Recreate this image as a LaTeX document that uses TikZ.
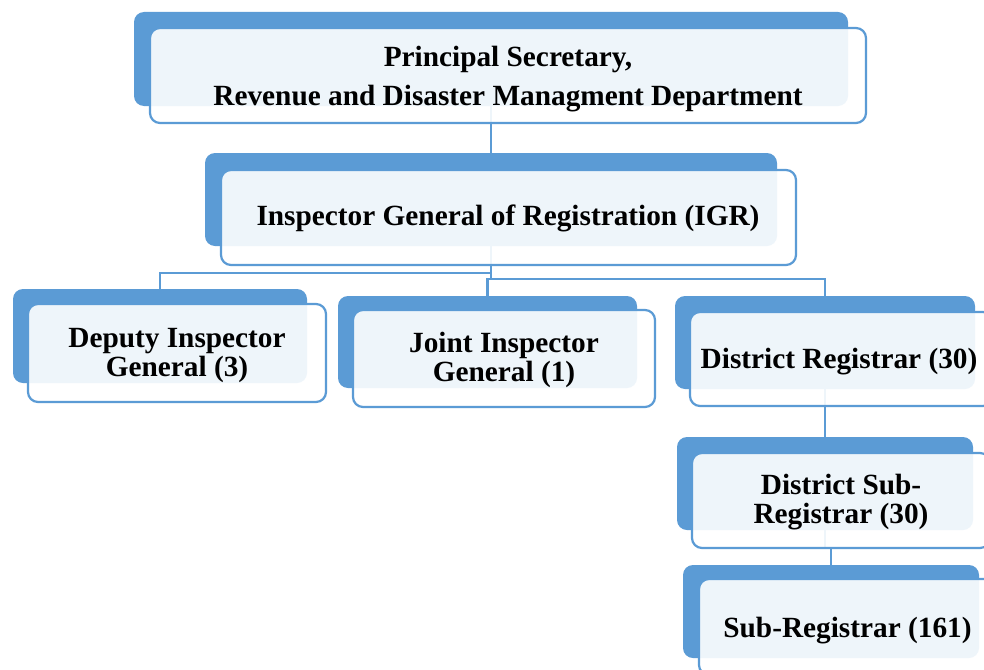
\documentclass[tikz,border=0pt]{standalone}
\usepackage{fontspec}
\setmainfont{Liberation Serif}
\usetikzlibrary{backgrounds}
\definecolor{orgblue}{RGB}{91,155,213}
\begin{document}
\begin{tikzpicture}[x=1pt,y=-1pt,
  backbox/.style={fill=orgblue, rounded corners=10pt, inner sep=0pt, outer sep=0pt},
  frontbox/.style={draw=orgblue, line width=2.2pt, fill=white, fill opacity=0.9, rounded corners=10pt, inner sep=0pt, outer sep=0pt},
  boxlabel/.style={font=\fontsize{29.3}{29}\selectfont\bfseries, align=center, text=black, inner sep=0pt},
  link/.style={draw=orgblue, line width=2.2pt}]
\useasboundingbox (0,0) rectangle (984,669);
% back boxes
\node[backbox, minimum width=714pt, minimum height=94pt] (b1) at (491,59) {};
\node[backbox, minimum width=572pt, minimum height=93pt] (b2) at (491,199.5) {};
\node[backbox, minimum width=294pt, minimum height=94pt] (b3) at (160,336) {};
\node[backbox, minimum width=299pt, minimum height=92pt] (b4) at (487.5,342) {};
\node[backbox, minimum width=300pt, minimum height=93pt] (b5) at (825,342.5) {};
\node[backbox, minimum width=296pt, minimum height=93pt] (b6) at (825,483.5) {};
\node[backbox, minimum width=296pt, minimum height=93pt] (b7) at (831,611.5) {};
% front boxes
\node[frontbox, minimum width=716pt, minimum height=95pt] (f1) at (508,75.5) {};
\node[frontbox, minimum width=575pt, minimum height=95pt] (f2) at (508.5,217.5) {};
\node[frontbox, minimum width=298pt, minimum height=98pt] (f3) at (177,353) {};
\node[frontbox, minimum width=302pt, minimum height=97pt] (f4) at (504,358.5) {};
\node[frontbox, minimum width=303pt, minimum height=94pt] (f5) at (841.5,359) {};
\node[frontbox, minimum width=298pt, minimum height=95pt] (f6) at (841,500.5) {};
\node[frontbox, minimum width=300pt, minimum height=96pt] (f7) at (849,627) {};
% labels
\node[boxlabel, font=\fontsize{29.3}{39}\selectfont\bfseries] (t1) at (508,79) {Principal Secretary,\\Revenue and Disaster Managment Department};
\node[boxlabel] (t2) at (508,218) {Inspector General of Registration (IGR)};
\node[boxlabel] (t3) at (177,356) {Deputy Inspector\\General (3)};
\node[boxlabel] (t4) at (504,360) {Joint Inspector\\General (1)};
\node[boxlabel] (t5) at (839,362) {District Registrar (30)};
\node[boxlabel] (t6) at (841,502) {District Sub-\\Registrar (30)};
\node[boxlabel] (t7) at (847.5,631) {Sub-Registrar (161)};
% junction points
\coordinate (j3) at (491,273);
\coordinate (j4) at (491,279);
\coordinate (j7) at (825,548);
\begin{pgfonlayer}{background}
\fill[white] (0,0) rectangle (984,669);
\draw[link] (b1.south) -- (b2.north);
\draw[link] (b2.south) -- (j3) -| (b3.north);
\draw[link] (b2.south) -- (j4) -| (b4.north);
\draw[link] (j4) -| (b5.north);
\draw[link] (b5.south) -- (b6.north);
\draw[link] (b6.south) -- (j7) -| (b7.north);
\end{pgfonlayer}
\end{tikzpicture}
\end{document}
